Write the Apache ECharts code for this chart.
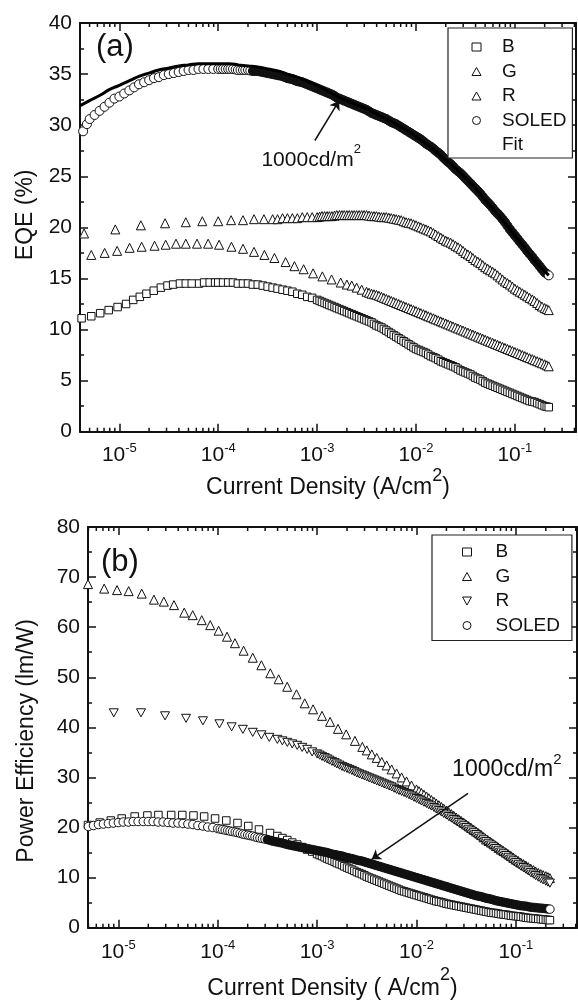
<!DOCTYPE html>
<html><head><meta charset="utf-8">
<script src="https://cdn.jsdelivr.net/npm/echarts@6/dist/echarts.min.js"></script>
<style>html,body{margin:0;padding:0;background:#fff}#c{width:578px;height:1001px}</style>
</head><body><div id="c"></div>
<script>
// ---------- data (current density in A/cm2) ----------
// dense measurement samples shared by the curves (where points overlap)
const J_GRID = [1e-5,1.12e-5,1.26e-5,1.41e-5,1.58e-5,1.78e-5,2e-5,2.24e-5,2.51e-5,2.82e-5,3.16e-5,3.55e-5,3.98e-5,4.47e-5,5.01e-5,5.62e-5,6.31e-5,7.08e-5,7.94e-5,8.91e-5,
1e-4,1.12e-4,1.26e-4,1.41e-4,1.58e-4,1.78e-4,2e-4,2.24e-4,2.51e-4,2.82e-4,3.16e-4,3.55e-4,3.98e-4,4.47e-4,5.01e-4,5.62e-4,6.31e-4,7.08e-4,7.94e-4,8.91e-4,
1e-3,1.12e-3,1.26e-3,1.41e-3,1.58e-3,1.78e-3,2e-3,2.24e-3,2.51e-3,2.82e-3,3.16e-3,3.55e-3,3.98e-3,4.47e-3,5.01e-3,5.62e-3,6.31e-3,7.08e-3,7.94e-3,8.91e-3,
1e-2,1.12e-2,1.26e-2,1.41e-2,1.58e-2,1.78e-2,2e-2,2.24e-2,2.51e-2,2.82e-2,3.16e-2,3.55e-2,3.98e-2,4.47e-2,5.01e-2,5.62e-2,6.31e-2,7.08e-2,7.94e-2,8.91e-2,
0.1,0.112,0.126,0.141,0.158,0.178,0.2,0.22];
// extra samples in the densest (high current) part
const J_MID = [1.06e-4,1.19e-4,1.33e-4,1.5e-4,1.68e-4,1.88e-4,2.11e-4,2.37e-4,2.66e-4,2.99e-4,3.35e-4,3.76e-4,4.22e-4,4.73e-4,5.31e-4,5.96e-4,6.68e-4,7.5e-4,8.41e-4,9.44e-4,
1.06e-3,1.19e-3,1.33e-3,1.5e-3,1.68e-3,1.88e-3,2.11e-3,2.37e-3,2.66e-3,2.99e-3,3.35e-3,3.76e-3,4.22e-3,4.73e-3,5.31e-3,5.96e-3,6.68e-3,7.5e-3,8.41e-3,9.44e-3,
1.06e-2,1.19e-2,1.33e-2,1.5e-2,1.68e-2,1.88e-2,2.11e-2,2.37e-2,2.66e-2,2.99e-2,3.35e-2,3.76e-2,4.22e-2,4.73e-2,5.31e-2,5.96e-2,6.68e-2,7.5e-2,8.41e-2,9.44e-2,
0.106,0.119,0.133,0.15,0.168,0.188,0.21];

// ---- panel (a): EQE (%) ----
const aB_xs = [4.15e-6,5.2e-6,6.4e-6,7.8e-6,9.6e-6,1.17e-5,1.38e-5,1.61e-5,1.88e-5,2.23e-5,2.63e-5,3.07e-5,3.5e-5,4.1e-5,4.7e-5,5.4e-5,6.4e-5,7.2e-5,8.2e-5,9.3e-5];
const aB_ys = [11.1,11.3,11.6,11.9,12.2,12.5,12.9,13.2,13.5,13.8,14.1,14.3,14.4,14.5,14.5,14.5,14.5,14.6,14.6,14.6];
const aB_from = 20;
const aB_yd = [14.6,14.6,14.6,14.6,14.5,14.5,14.5,14.4,14.4,14.3,14.2,14.1,14.0,13.9,13.8,13.7,13.5,13.4,13.2,13.1,
12.9,12.7,12.5,12.3,12.1,11.9,11.7,11.5,11.3,11.1,10.9,10.7,10.4,10.2,9.9,9.6,9.3,9.0,8.7,8.4,
8.1,7.9,7.7,7.4,7.2,6.9,6.7,6.5,6.3,6.0,5.8,5.6,5.3,5.1,4.8,4.6,4.4,4.2,4.0,3.8,
3.6,3.4,3.2,3.0,2.9,2.7,2.5,2.4];
const aB_midFrom = 20;
const aB_ym = [12.8,12.6,12.4,12.2,12.0,11.8,11.6,11.4,11.2,11.0,10.8,10.55,10.3,10.05,9.75,9.45,9.15,8.85,8.55,8.25,
8.0,7.8,7.55,7.3,7.05,6.8,6.6,6.4,6.15,5.9,5.7,5.45,5.2,4.95,4.7,4.5,4.3,4.1,3.9,3.7,
3.5,3.3,3.1,2.95,2.8,2.6,2.45];

const aG_xs = [4.4e-6,9.1e-6,1.65e-5,2.9e-5,4.7e-5,6.9e-5,1e-4,1.35e-4,1.78e-4,2.3e-4,2.9e-4];
const aG_ys = [19.4,19.8,20.2,20.4,20.5,20.6,20.6,20.7,20.7,20.8,20.8];
const aG_from = 31;
const aG_yd = [20.8,20.8,20.9,20.9,20.9,20.9,21.0,21.0,21.0,
21.0,21.1,21.1,21.1,21.2,21.2,21.2,21.2,21.2,21.2,21.2,21.1,21.1,21.0,21.0,20.9,20.8,20.7,20.5,20.4,
20.2,20.0,19.8,19.6,19.3,19.0,18.7,18.5,18.2,17.9,17.5,17.2,16.8,16.5,16.1,15.8,15.5,15.1,14.7,14.4,
14.0,13.7,13.4,13.1,12.8,12.4,12.1,11.9];
const aG_midFrom = 20;
const aG_ym = [21.05,21.1,21.1,21.15,21.2,21.2,21.2,21.2,21.2,21.2,21.15,21.1,21.05,21.0,20.95,20.85,20.75,20.6,20.45,20.3,
20.1,19.9,19.7,19.45,19.15,18.85,18.6,18.35,18.05,17.7,17.35,17.0,16.65,16.3,15.95,15.65,15.3,14.9,14.55,14.2,
13.85,13.55,13.25,12.95,12.6,12.25,12.0];

const aR_xs = [5.2e-6,7.1e-6,9.5e-6,1.27e-5,1.68e-5,2.27e-5,2.94e-5,3.74e-5,4.7e-5,6.1e-5,7.9e-5,1.02e-4,1.36e-4,1.78e-4,2.3e-4,2.93e-4,3.7e-4,4.8e-4,5.9e-4,7.3e-4,9.1e-4,1.13e-3,1.4e-3,1.73e-3];
const aR_ys = [17.3,17.5,17.7,18.0,18.1,18.2,18.3,18.4,18.4,18.4,18.4,18.3,18.1,17.9,17.6,17.3,17.0,16.6,16.2,15.9,15.5,15.2,14.9,14.6];
const aR_from = 46;
const aR_yd = [14.4,14.3,14.1,13.9,13.7,13.5,13.4,13.2,13.0,12.8,12.6,12.4,12.2,12.0,
11.8,11.6,11.4,11.2,11.0,10.8,10.6,10.4,10.2,10.0,9.8,9.6,9.4,9.2,9.0,8.8,8.6,8.4,8.2,8.0,
7.8,7.6,7.4,7.2,7.0,6.8,6.6,6.4];
const aR_midFrom = 30;
const aR_ym = [13.6,13.45,13.3,13.1,12.9,12.7,12.5,12.3,12.1,11.9,
11.7,11.5,11.3,11.1,10.9,10.7,10.5,10.3,10.1,9.9,9.7,9.5,9.3,9.1,8.9,8.7,8.5,8.3,8.1,7.9,
7.7,7.5,7.3,7.1,6.9,6.7,6.5];

const aS_xs = [4.3e-6,4.7e-6,5.01e-6,5.62e-6,6.31e-6,7.08e-6,7.94e-6,8.91e-6];
const aS_ys = [29.4,30.1,30.6,31.0,31.4,31.8,32.2,32.6];
const aS_from = 0;
const aS_yd = [32.8,33.1,33.4,33.7,34.0,34.2,34.4,34.6,34.7,34.9,35.0,35.1,35.2,35.3,35.4,35.4,35.5,35.5,35.5,35.5,
35.5,35.5,35.5,35.5,35.4,35.4,35.4,35.3,35.3,35.2,35.1,35.0,34.9,34.8,34.6,34.5,34.3,34.2,34.0,33.8,
33.6,33.4,33.2,33.0,32.7,32.5,32.3,32.1,31.9,31.7,31.5,31.2,31.0,30.8,30.6,30.3,30.1,29.8,29.5,29.2,
28.9,28.6,28.2,27.9,27.5,27.1,26.6,26.2,25.7,25.3,24.8,24.3,23.8,23.3,22.7,22.2,21.6,21.1,20.5,19.8,
19.2,18.6,18.0,17.4,16.8,16.2,15.6,15.3];
const aS_midFrom = 0;
const aS_ym = [35.5,35.5,35.5,35.45,35.4,35.4,35.35,35.3,35.25,35.15,35.05,34.95,34.85,34.7,34.55,34.4,34.25,34.1,33.9,33.7,
33.5,33.3,33.1,32.85,32.6,32.4,32.2,32.0,31.8,31.6,31.35,31.1,30.9,30.7,30.45,30.2,29.95,29.65,29.35,29.05,
28.75,28.4,28.05,27.7,27.3,26.85,26.4,25.95,25.5,25.05,24.55,24.05,23.55,23.0,22.45,21.9,21.35,20.8,20.15,19.5,
18.9,18.3,17.7,17.1,16.5,15.9,15.45];

const aFit_x = [4e-6,5e-6,6.3e-6,8e-6,1e-5,1.3e-5,1.6e-5,2e-5,2.5e-5,3.2e-5,4e-5,5e-5,6.3e-5,8e-5,1e-4,1.3e-4,1.6e-4,2e-4,2.5e-4,3.2e-4,4e-4,5e-4,6.3e-4,8e-4,1e-3,1.3e-3,1.6e-3,2e-3,2.5e-3,3.2e-3,4e-3,5e-3,6.3e-3,8e-3,1e-2,1.3e-2,1.6e-2,2e-2,2.5e-2,3.2e-2,4e-2,5e-2,6.3e-2,8e-2,1e-1,1.3e-1,1.6e-1,2.2e-1];
const aFit_y = [31.9,32.4,32.9,33.5,33.9,34.4,34.8,35.1,35.4,35.6,35.8,35.9,36.0,36.0,36.0,36.0,35.9,35.8,35.7,35.5,35.3,35.0,34.7,34.3,33.9,33.3,32.8,32.4,32.0,31.6,31.1,30.6,30.1,29.5,28.9,28.1,27.4,26.6,25.8,24.8,23.8,22.7,21.6,20.4,19.2,17.8,16.7,15.3];

// ---- panel (b): Power efficiency (lm/W) ----
const bB_xs = [4.95e-6,6.5e-6,8.4e-6,1.08e-5,1.46e-5,1.96e-5,2.53e-5,3.4e-5,4.4e-5,5.7e-5,7.3e-5,9.4e-5,1.22e-4,1.58e-4,2.03e-4,2.6e-4,3.36e-4];
const bB_ys = [20.5,21.0,21.4,21.8,22.2,22.4,22.5,22.5,22.5,22.4,22.2,21.8,21.4,20.9,20.3,19.6,18.9];
const bB_from = 32;
const bB_yd = [18.3,17.9,17.5,17.0,16.6,16.1,15.6,15.2,
14.7,14.3,13.8,13.4,12.9,12.5,12.0,11.6,11.1,10.7,10.2,9.8,9.4,9.0,8.6,8.2,7.8,7.4,7.1,6.8,
6.5,6.2,5.9,5.6,5.3,5.1,4.8,4.6,4.4,4.2,4.0,3.8,3.6,3.4,3.2,3.0,2.9,2.7,2.6,2.4,
2.3,2.2,2.0,1.9,1.8,1.7,1.6,1.5];
const bB_midFrom = 20;
const bB_ym = [14.5,14.05,13.6,13.15,12.7,12.25,11.8,11.35,10.9,10.45,10.0,9.6,9.2,8.8,8.4,8.0,7.6,7.25,6.95,6.65,
6.35,6.05,5.75,5.45,5.2,4.95,4.7,4.5,4.3,4.1,3.9,3.7,3.5,3.3,3.1,2.95,2.8,2.65,2.5,2.35,
2.25,2.1,1.95,1.85,1.75,1.65,1.55];

const bG_xs = [4.95e-6,7.2e-6,9.7e-6,1.27e-5,1.72e-5,2.28e-5,2.87e-5,3.63e-5,4.6e-5,5.6e-5,6.9e-5,8.4e-5,1.02e-4,1.24e-4,1.49e-4,1.82e-4,2.25e-4,2.75e-4,3.38e-4,4.1e-4,5e-4,6.2e-4,7.5e-4,9.1e-4,1.12e-3,1.35e-3,1.62e-3,1.96e-3,2.4e-3,2.85e-3];
const bG_ys = [68.6,67.7,67.4,67.2,66.7,65.5,65.1,64.4,62.9,62.4,61.4,60.4,59.3,58.1,56.8,55.3,53.9,52.4,50.8,49.6,48.1,46.6,44.8,43.6,42.3,41.1,39.7,38.6,37.3,36.1];
const bG_from = 50;
const bG_yd = [35.4,34.6,33.9,33.1,32.4,31.6,30.8,30.0,29.2,28.4,
27.6,26.9,26.2,25.5,24.8,24.1,23.4,22.7,22.0,21.3,20.6,19.9,19.2,18.5,17.6,17.0,16.3,15.6,15.0,14.3,
13.6,13.0,12.4,11.8,11.2,10.7,10.3,9.9];
const bG_midFrom = 40;
const bG_ym = [27.25,26.55,25.85,25.15,24.45,23.75,23.05,22.35,21.65,20.95,20.25,19.55,18.85,18.05,17.3,16.65,15.95,15.3,14.65,13.95,
13.3,12.7,12.1,11.5,10.95,10.5,10.1];

const bR_xs = [9e-6,1.69e-5,2.95e-5,4.8e-5,7.1e-5,1.04e-4,1.38e-4,1.79e-4,2.25e-4,2.75e-4,3.3e-4];
const bR_ys = [42.9,42.9,42.3,41.8,41.3,40.7,40.1,39.6,39.0,38.5,38.0];
const bR_from = 32;
const bR_yd = [37.6,37.3,37.0,36.7,36.4,36.0,35.6,35.1,
34.7,34.2,33.7,33.2,32.7,32.2,31.8,31.4,30.9,30.5,30.1,29.7,29.3,28.9,28.5,28.1,27.6,27.2,26.8,26.3,
25.8,25.3,24.8,24.3,23.7,23.1,22.5,21.9,21.3,20.7,20.0,19.3,18.6,17.9,17.2,16.5,15.8,15.1,14.4,13.7,
13.0,12.3,11.7,11.0,10.4,9.8,9.3,8.9];
const bR_midFrom = 20;
const bR_ym = [34.45,33.95,33.45,32.95,32.45,32.0,31.6,31.15,30.7,30.3,29.9,29.5,29.1,28.7,28.3,27.85,27.4,27.0,26.55,26.05,
25.55,25.05,24.55,24.0,23.4,22.8,22.2,21.6,21.0,20.35,19.65,18.95,18.25,17.55,16.85,16.15,15.45,14.75,14.05,13.35,
12.65,12.0,11.35,10.7,10.1,9.55,9.1];

const bS_xs = [5e-6,5.62e-6,6.31e-6,7.08e-6,7.94e-6,8.91e-6];
const bS_ys = [20.2,20.4,20.6,20.7,20.8,20.9];
const bS_from = 0;
const bS_yd = [21.0,21.1,21.1,21.2,21.2,21.2,21.2,21.2,21.1,21.1,21.0,20.9,20.9,20.8,20.7,20.6,20.4,20.3,20.1,20.0,
19.8,19.6,19.4,19.2,19.0,18.7,18.5,18.3,18.0,17.8,17.6,17.3,17.1,16.9,16.6,16.4,16.2,16.0,15.8,15.6,
15.4,15.2,15.0,14.7,14.5,14.3,14.0,13.8,13.5,13.3,13.0,12.7,12.4,12.1,11.8,11.5,11.2,10.9,10.6,10.3,
10.0,9.7,9.4,9.1,8.8,8.5,8.2,7.9,7.6,7.3,7.0,6.7,6.4,6.2,5.9,5.7,5.4,5.2,5.0,4.8,
4.6,4.4,4.3,4.1,4.0,3.9,3.8,3.7];
const bS_midFrom = 0;
const bS_ym = [19.7,19.5,19.3,19.1,18.85,18.6,18.4,18.15,17.9,17.7,17.45,17.2,17.0,16.75,16.5,16.3,16.1,15.9,15.7,15.5,
15.3,15.1,14.85,14.6,14.4,14.15,13.9,13.65,13.4,13.15,12.85,12.55,12.25,11.95,11.65,11.35,11.05,10.75,10.45,10.15,
9.85,9.55,9.25,8.95,8.65,8.35,8.05,7.75,7.45,7.15,6.85,6.55,6.3,6.05,5.8,5.55,5.3,5.1,4.9,4.7,
4.5,4.35,4.2,4.05,3.95,3.85,3.75];

// annotation arrows [x tail, y tail, x tip, y tip] and label anchors
const arrowA = [9.5e-4, 28.5, 1.67e-3, 32.4];
const labelA = [8.7e-4, 26.6];
const arrowB = [3.3e-2, 26.8, 3.54e-3, 13.65];
const labelB = [8.1e-2, 31.5];

// minor log ticks (2..9 x 10^n)
const MINOR_X = [4e-6,5e-6,6e-6,7e-6,8e-6,9e-6,2e-5,3e-5,4e-5,5e-5,6e-5,7e-5,8e-5,9e-5,2e-4,3e-4,4e-4,5e-4,6e-4,7e-4,8e-4,9e-4,
2e-3,3e-3,4e-3,5e-3,6e-3,7e-3,8e-3,9e-3,2e-2,3e-2,4e-2,5e-2,6e-2,7e-2,8e-2,9e-2,2e-1,3e-1,4e-1];

// ---------- chart ----------
const FF = '"Liberation Sans", Arial, Helvetica, sans-serif';
const INK = '#111';
// solid: [from, to) range of x where overlapping markers merge into a solid band
function build(xs, ys, from, yd, midFrom, ym, solid) {
  const X = xs.concat(J_GRID.slice(from));
  const Y = ys.concat(yd);
  let pts = [];
  for (let i = 0; i < X.length && i < Y.length; i++) pts.push([X[i], Y[i]]);
  if (ym) {
    const M = J_MID.slice(midFrom);
    for (let i = 0; i < M.length && i < ym.length; i++) pts.push([M[i], ym[i]]);
  }
  pts.sort((p, q) => p[0] - q[0]);
  if (solid) {
    return pts.map(p => (p[0] >= solid[0] && p[0] < solid[1]) ? {value: p, itemStyle: {color: INK}} : p);
  }
  return pts;
}
function pairs(xs, ys) { return xs.map((x, i) => [x, ys[i]]); }
function powLabel(v) {
  const e = Math.log10(v), r = Math.round(e);
  if (Math.abs(e - r) > 1e-6) return '';
  return '{b|10}{s|' + r + '}';
}
const tickRich = {
  b: {fontSize: 21, lineHeight: 28, fontFamily: FF, color: INK},
  s: {fontSize: 13, lineHeight: 14, verticalAlign: 'top', fontFamily: FF, color: INK}
};
function nameRich(lh) {
  return {
    t: {fontSize: 23, lineHeight: lh, fontFamily: FF, color: INK},
    s: {fontSize: 18, lineHeight: 18, verticalAlign: 'top', fontFamily: FF, color: INK}
  };
}
const axLine = {show: true, onZero: false, lineStyle: {color: INK, width: 2}};
const axTick = {show: true, inside: true, length: 8, lineStyle: {color: INK, width: 1.5}};
const mnTick = {show: true, splitNumber: 2, length: 4, lineStyle: {color: INK, width: 1.5}};

function xAx(grid, pos, min, max, extra) {
  return Object.assign({
    type: 'log', logBase: 10, gridIndex: grid, position: pos, min: min, max: max,
    axisLine: axLine, axisTick: axTick, minorTick: {show: false},
    splitLine: {show: false}, minorSplitLine: {show: false},
    axisLabel: {show: false}
  }, extra || {});
}
function yAx(grid, pos, max, interval, extra) {
  return Object.assign({
    type: 'value', gridIndex: grid, position: pos, min: 0, max: max, interval: interval,
    axisLine: axLine, axisTick: axTick, minorTick: mnTick,
    splitLine: {show: false}, minorSplitLine: {show: false},
    axisLabel: {show: false}
  }, extra || {});
}
function tickRender(yMin, yMax) {
  return function (params, api) {
    const v = api.value(0);
    const b = api.coord([v, yMin]);
    const t = api.coord([v, yMax]);
    const st = {stroke: INK, lineWidth: 1.5};
    return {type: 'group', children: [
      {type: 'line', shape: {x1: b[0], y1: b[1], x2: b[0], y2: b[1] - 4}, style: st},
      {type: 'line', shape: {x1: t[0], y1: t[1], x2: t[0], y2: t[1] + 4}, style: st}
    ]};
  };
}
function scat(name, xi, yi, data, symbol, size) {
  return {
    type: 'scatter', name: name, xAxisIndex: xi, yAxisIndex: yi, data: data,
    symbol: symbol, symbolSize: size, symbolKeepAspect: true,
    itemStyle: {color: '#fff', borderColor: INK, borderWidth: 1, opacity: 1},
    emphasis: {disabled: true}, silent: true, z: 2
  };
}
const DOWN_TRI = 'path://M0,0 L10,0 L5,9 Z';
const UP_TRI = 'triangle';

const annotRich = function (fs, lh, sfs) {
  return {
    t: {fontSize: fs, lineHeight: lh, fontFamily: FF, color: INK},
    s: {fontSize: sfs, lineHeight: sfs + 1, verticalAlign: 'top', fontFamily: FF, color: INK}
  };
};

const option = {
  animation: false,
  backgroundColor: '#fff',
  textStyle: {fontFamily: FF, color: INK},
  grid: [
    {left: 80, top: 23, width: 496, height: 408.7, containLabel: false, outerBoundsMode: 'none'},
    {left: 88, top: 527, width: 489, height: 400.7, containLabel: false, outerBoundsMode: 'none'}
  ],
  xAxis: [
    xAx(0, 'bottom', 4.0e-6, 0.415, {
      axisLabel: {show: true, margin: 10, formatter: powLabel, rich: tickRich},
      name: '{t|Current Density (A/cm}{s|2}{t|)}', nameLocation: 'middle', nameGap: 26,
      nameTextStyle: {rich: nameRich(42)}
    }),
    xAx(0, 'top', 4.0e-6, 0.415),
    xAx(1, 'bottom', 4.95e-6, 0.412, {
      axisLabel: {show: true, margin: 11, formatter: powLabel, rich: tickRich},
      name: '{t|Current Density ( A/cm}{s|2}{t|)}', nameLocation: 'middle', nameGap: 38,
      nameTextStyle: {rich: nameRich(45)}
    }),
    xAx(1, 'top', 4.95e-6, 0.412)
  ],
  yAxis: [
    yAx(0, 'left', 40, 5, {
      axisLabel: {show: true, margin: 8, fontSize: 21, fontFamily: FF, color: INK},
      name: 'EQE (%)', nameLocation: 'middle', nameGap: 43,
      nameTextStyle: {fontSize: 23, fontFamily: FF, color: INK, padding: [0, 0, 0, 25]}
    }),
    yAx(0, 'right', 40, 5),
    yAx(1, 'left', 80, 10, {
      axisLabel: {show: true, margin: 8, fontSize: 21, fontFamily: FF, color: INK},
      name: 'Power Efficiency (lm/W)', nameLocation: 'middle', nameGap: 50,
      nameTextStyle: {fontSize: 23, fontFamily: FF, color: INK, padding: [0, 27, 0, 0]}
    }),
    yAx(1, 'right', 80, 10)
  ],
  legend: [
    {
      orient: 'vertical', left: 448, top: 28, itemWidth: 9, itemHeight: 8, itemGap: 4.5,
      padding: [9, 6, 3, 23.5], borderColor: '#222', borderWidth: 1.2, backgroundColor: '#fff',
      selectedMode: false, z: 10,
      itemStyle: {borderWidth: 1},
      textStyle: {fontSize: 19, lineHeight: 20, fontFamily: FF, color: INK, padding: [0, 0, 0, 16]},
      data: [{name: 'B', icon: 'rect'}, {name: 'G', icon: 'triangle'}, {name: 'R', icon: 'triangle'}, {name: 'SOLED', icon: 'circle', itemStyle: {color: '#fff'}}, {name: 'Fit', icon: 'none'}]
    },
    {
      orient: 'vertical', left: 432, top: 535, itemWidth: 9, itemHeight: 8, itemGap: 4.5,
      padding: [7, 12, 5, 30], borderColor: '#222', borderWidth: 1.2, backgroundColor: '#fff',
      selectedMode: false, z: 10,
      itemStyle: {borderWidth: 1},
      textStyle: {fontSize: 19, lineHeight: 20, fontFamily: FF, color: INK, padding: [0, 0, 0, 19]},
      formatter: function (n) { return n.replace(' (b)', ''); },
      data: [{name: 'B (b)', icon: 'rect'}, {name: 'G (b)', icon: 'triangle'}, {name: 'R (b)', icon: DOWN_TRI}, {name: 'SOLED (b)', icon: 'circle', itemStyle: {color: '#fff'}}]
    }
  ],
  graphic: [
    {type: 'text', x: 96, y: 47.8, z: 20, style: {text: '(a)', font: '31px ' + FF, fill: INK, verticalAlign: 'middle', align: 'left'}},
    {type: 'text', x: 101, y: 562.3, z: 20, style: {text: '(b)', font: '31px ' + FF, fill: INK, verticalAlign: 'middle', align: 'left'}}
  ],
  series: [
    // minor ticks
    {type: 'custom', xAxisIndex: 0, yAxisIndex: 0, data: MINOR_X.map(v => [v, 0]), encode: {x: 0, y: 1},
     renderItem: tickRender(0, 40), silent: true, clip: false, z: 5},
    {type: 'custom', xAxisIndex: 2, yAxisIndex: 2, data: MINOR_X.filter(v => v >= 5e-6).map(v => [v, 0]), encode: {x: 0, y: 1},
     renderItem: tickRender(0, 80), silent: true, clip: false, z: 5},
    // panel (a)
    scat('B', 0, 0, build(aB_xs, aB_ys, aB_from, aB_yd, aB_midFrom, aB_ym), 'rect', 7.5),
    scat('G', 0, 0, build(aG_xs, aG_ys, aG_from, aG_yd, aG_midFrom, aG_ym), UP_TRI, 9),
    scat('R', 0, 0, build(aR_xs, aR_ys, aR_from, aR_yd, aR_midFrom, aR_ym), UP_TRI, 9),
    scat('SOLED', 0, 0, build(aS_xs, aS_ys, aS_from, aS_yd, aS_midFrom, aS_ym, [2.2e-4, 0.215]), 'circle', 9),
    {
      type: 'line', name: 'Fit', xAxisIndex: 0, yAxisIndex: 0, data: pairs(aFit_x, aFit_y),
      smooth: true, symbol: 'none', lineStyle: {color: '#000', width: 3}, itemStyle: {color: '#000'},
      silent: true, z: 3,
      markLine: {
        silent: true, symbol: ['none', 'arrow'], symbolSize: 9, animation: false,
        lineStyle: {color: INK, width: 1.5, type: 'solid'}, label: {show: false},
        data: [[{coord: [arrowA[0], arrowA[1]]}, {coord: [arrowA[2], arrowA[3]]}]]
      },
      markPoint: {
        silent: true, symbol: 'circle', symbolSize: 0, animation: false,
        label: {show: true, position: 'inside', formatter: '{t|1000cd/m}{s|2}', rich: annotRich(21, 34, 13)},
        data: [{coord: labelA}]
      }
    },
    // panel (b)
    scat('B (b)', 2, 2, build(bB_xs, bB_ys, bB_from, bB_yd, bB_midFrom, bB_ym), 'rect', 7.5),
    scat('G (b)', 2, 2, build(bG_xs, bG_ys, bG_from, bG_yd, bG_midFrom, bG_ym), UP_TRI, 9),
    scat('R (b)', 2, 2, build(bR_xs, bR_ys, bR_from, bR_yd, bR_midFrom, bR_ym), DOWN_TRI, 9),
    Object.assign(scat('SOLED (b)', 2, 2, build(bS_xs, bS_ys, bS_from, bS_yd, bS_midFrom, bS_ym, [3e-4, 0.215]), 'circle', 8.5), {
      markLine: {
        silent: true, symbol: ['none', 'arrow'], symbolSize: 9, animation: false,
        lineStyle: {color: INK, width: 1.5, type: 'solid'}, label: {show: false},
        data: [[{coord: [arrowB[0], arrowB[1]]}, {coord: [arrowB[2], arrowB[3]]}]]
      },
      markPoint: {
        silent: true, symbol: 'circle', symbolSize: 0, animation: false,
        label: {show: true, position: 'inside', formatter: '{t|1000cd/m}{s|2}', rich: annotRich(23, 36, 15)},
        data: [{coord: labelB}]
      }
    })
  ]
};
const chart = echarts.init(document.getElementById('c'), null, {renderer: 'canvas'});
chart.setOption(option);
</script></body></html>
